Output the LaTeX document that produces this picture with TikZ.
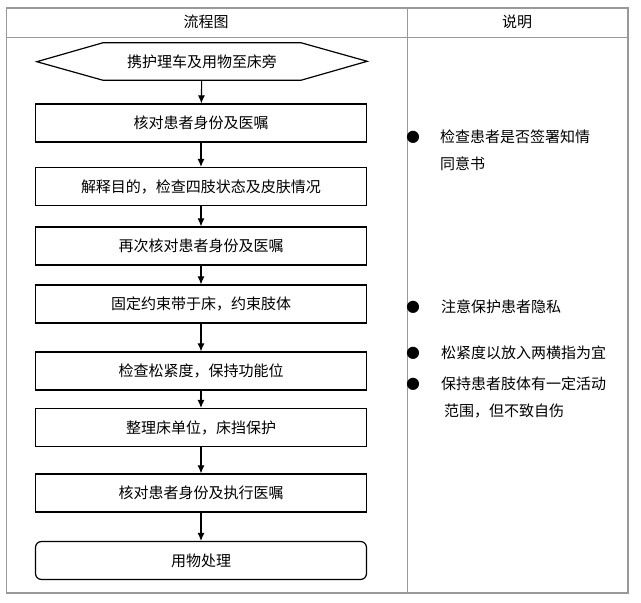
\documentclass[tikz,border=0pt]{standalone}
\usepackage{fontspec}
\setmainfont{Noto Sans CJK SC}
\newfontfamily\symfont{DejaVu Sans}
\usetikzlibrary{arrows.meta}

\begin{document}
\begin{tikzpicture}
  [x=1pt,y=-1pt,
   every node/.style={font=\fontsize{15pt}{18pt}\selectfont},
   stepbox/.style={draw,line width=1.2pt,minimum width=331pt,minimum height=38pt,inner sep=0pt},
   endbox/.style={stepbox,rounded corners=6pt},
   grid/.style={draw=black!40,line width=1.2pt},
   flow/.style={line width=1.1pt,-{Latex[length=8pt,width=7pt]}},
   dot/.style={font=\symfont\fontsize{16pt}{16pt}\selectfont,inner sep=0pt},
   note/.style={anchor=west,inner sep=0pt}]
  \useasboundingbox (0,0) rectangle (641,603);
  % table
  \draw[grid] (6.5,8) rectangle (628,593);
  \draw[grid,line width=0.8pt] (6.5,37) -- (628,37);
  \draw[grid,line width=0.8pt] (407,8) -- (407,593);
  \node (h1) at (206,22) {流程图};
  \node (h2) at (517,22) {说明};
  % flow chart
  \node[minimum width=198pt,minimum height=37pt,inner sep=0pt] (n0) at (202,61.5) {携护理车及用物至床旁};
  \draw[line width=1.2pt] (n0.north west) -- (n0.north east) -- ++(66,18.5)
    -- (n0.south east) -- (n0.south west) -- ++(-66,-18.5) -- cycle;
  \node[stepbox] (n1) at (201,123) {核对患者身份及医嘱};
  \node[stepbox] (n2) at (201,186.5) {解释目的，检查四肢状态及皮肤情况};
  \node[stepbox] (n3) at (201,246) {再次核对患者身份及医嘱};
  \node[stepbox] (n4) at (201,304) {固定约束带于床，约束肢体};
  \node[stepbox] (n5) at (201,371) {检查松紧度，保持功能位};
  \node[stepbox] (n6) at (201,427.5) {整理床单位，床挡保护};
  \node[stepbox] (n7) at (201,493) {核对患者身份及执行医嘱};
  \node[endbox] (n8) at (201,560.5) {用物处理};
  \foreach \from/\to in {n0/n1, n1/n2, n2/n3, n3/n4, n4/n5, n5/n6, n6/n7, n7/n8}
    \draw[flow] (\from) -- (\to);
  % notes
  \node[dot] (d1) at (413,137) {●};
  \node[note] (t1) at (440,137) {检查患者是否签署知情};
  \node[note] (t1b) at (440,164) {同意书};
  \node[dot] (d2) at (413,307) {●};
  \node[note] (t2) at (441,307) {注意保护患者隐私};
  \node[dot] (d3) at (413,353) {●};
  \node[note] (t3) at (441,353) {松紧度以放入两横指为宜};
  \node[dot] (d4) at (413,384) {●};
  \node[note] (t4) at (441,384) {保持患者肢体有一定活动};
  \node[note] (t4b) at (444,411) {范围，但不致自伤};
\end{tikzpicture}
\end{document}
